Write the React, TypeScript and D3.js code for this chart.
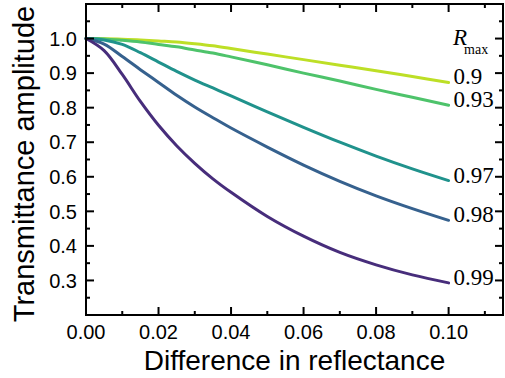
import * as d3 from 'd3';
import { useEffect, useRef } from 'react';

// Difference in reflectance (x)
const diffs = [0, 0.005, 0.01, 0.015, 0.02, 0.025, 0.03, 0.035, 0.04, 0.05, 0.06, 0.07, 0.08, 0.09, 0.1];

// Transmittance amplitude per R_max
const t090 = [1, 0.9995, 0.998, 0.996, 0.993, 0.99, 0.985, 0.979, 0.971, 0.955, 0.939, 0.923, 0.907, 0.89, 0.873];
const t093 = [1, 0.999, 0.995, 0.99, 0.983, 0.976, 0.967, 0.958, 0.947, 0.924, 0.9, 0.877, 0.853, 0.83, 0.807];
const t097 = [1, 0.996, 0.983, 0.959, 0.932, 0.905, 0.88, 0.857, 0.834, 0.788, 0.743, 0.7, 0.66, 0.623, 0.589];
const t098 = [1, 0.984, 0.948, 0.91, 0.873, 0.836, 0.802, 0.771, 0.741, 0.686, 0.634, 0.587, 0.545, 0.508, 0.474];
const t099 = [1, 0.965, 0.896, 0.818, 0.749, 0.69, 0.639, 0.594, 0.555, 0.485, 0.428, 0.381, 0.345, 0.316, 0.293];

const seriesLabels = ['0.9', '0.93', '0.97', '0.98', '0.99'];
const seriesValues = [t090, t093, t097, t098, t099];
const seriesColors = ['#bddf26', '#4ec36b', '#20928c', '#36618e', '#472d7b'];

const xMajorTicks = [0, 0.02, 0.04, 0.06, 0.08, 0.1];
const xMinorTicks = [0.01, 0.03, 0.05, 0.07, 0.09, 0.11];
const yMajorTicks = [0.3, 0.4, 0.5, 0.6, 0.7, 0.8, 0.9, 1.0];
const yMinorTicks = [0.25, 0.35, 0.45, 0.55, 0.65, 0.75, 0.85, 0.95, 1.05];

const W = 505;
const H = 378;

const App = () => {
    const svgRef = useRef<SVGSVGElement>(null);

    useEffect(() => {
        const svg = d3.select(svgRef.current);
        svg.selectAll('*').remove();

        const left = 86, right = 503, top = 4, bottom = 315;

        const x = d3.scaleLinear().domain([0, 0.115]).range([left, right]);
        const y = d3.scaleLinear().domain([0.2, 1.1]).range([bottom, top]);

        const sans = '"Liberation Sans", Arial, sans-serif';
        const serif = '"Liberation Serif", "Times New Roman", serif';

        // Lines
        const line = d3
            .line<number>()
            .x((_, i) => x(diffs[i]))
            .y((d) => y(d))
            .curve(d3.curveCatmullRom.alpha(0.5));

        seriesValues.forEach((vals, k) => {
            svg
                .append('path')
                .datum(vals)
                .attr('fill', 'none')
                .attr('stroke', seriesColors[k])
                .attr('stroke-width', 3)
                .attr('stroke-linecap', 'round')
                .attr('d', line);
        });

        // Series labels at line ends
        seriesValues.forEach((vals, k) => {
            const last = vals[vals.length - 1];
            svg
                .append('text')
                .attr('x', x(diffs[diffs.length - 1]) + 5)
                .attr('y', y(last) + 2)
                .style('font-family', serif)
                .style('font-size', '23px')
                .text(seriesLabels[k]);
        });

        // R_max header
        const hdr = svg.append('text').attr('x', 453).attr('y', 45).style('font-family', serif);
        hdr.append('tspan').style('font-size', '23px').style('font-style', 'italic').text('R');
        hdr.append('tspan').attr('dx', -3).attr('dy', 9).style('font-size', '14px').text('max');

        // Frame
        svg
            .append('rect')
            .attr('x', left)
            .attr('y', top)
            .attr('width', right - left)
            .attr('height', bottom - top)
            .attr('fill', 'none')
            .attr('stroke', '#000')
            .attr('stroke-width', 2);

        // Ticks (all pointing inward)
        const ticks = svg.append('g').attr('stroke', '#000').attr('stroke-width', 2);
        const addX = (vals: number[], len: number) => {
            vals.forEach((v) => {
                ticks.append('line').attr('x1', x(v)).attr('x2', x(v)).attr('y1', bottom).attr('y2', bottom - len);
                ticks.append('line').attr('x1', x(v)).attr('x2', x(v)).attr('y1', top).attr('y2', top + len);
            });
        };
        const addY = (vals: number[], len: number) => {
            vals.forEach((v) => {
                ticks.append('line').attr('x1', left).attr('x2', left + len).attr('y1', y(v)).attr('y2', y(v));
                ticks.append('line').attr('x1', right).attr('x2', right - len).attr('y1', y(v)).attr('y2', y(v));
            });
        };
        addX(xMajorTicks, 8);
        addX(xMinorTicks, 4);
        addY(yMajorTicks, 8);
        addY(yMinorTicks, 4);

        // Tick labels
        svg
            .append('g')
            .selectAll('text')
            .data(xMajorTicks)
            .enter()
            .append('text')
            .attr('x', (d) => x(d))
            .attr('y', 339)
            .attr('text-anchor', 'middle')
            .style('font-family', sans)
            .style('font-size', '20px')
            .text((d) => d3.format('.2f')(d));

        svg
            .append('g')
            .selectAll('text')
            .data(yMajorTicks)
            .enter()
            .append('text')
            .attr('x', left - 9)
            .attr('y', (d) => y(d))
            .attr('dy', '0.36em')
            .attr('text-anchor', 'end')
            .style('font-family', sans)
            .style('font-size', '20px')
            .text((d) => d3.format('.1f')(d));

        // Axis titles
        svg
            .append('text')
            .attr('x', (left + right) / 2)
            .attr('y', 370)
            .attr('text-anchor', 'middle')
            .style('font-family', sans)
            .style('font-size', '28px')
            .text('Difference in reflectance');

        svg
            .append('text')
            .attr('transform', 'translate(34,164) rotate(-90)')
            .attr('text-anchor', 'middle')
            .style('font-family', sans)
            .style('font-size', '29px')
            .text('Transmittance amplitude');
    }, []);

    return (
        <div style={{ position: 'absolute', left: 0, top: 0 }}>
            <svg ref={svgRef} width={W} height={H} style={{ display: 'block', background: '#fff' }}></svg>
        </div>
    );
};

export default App;
